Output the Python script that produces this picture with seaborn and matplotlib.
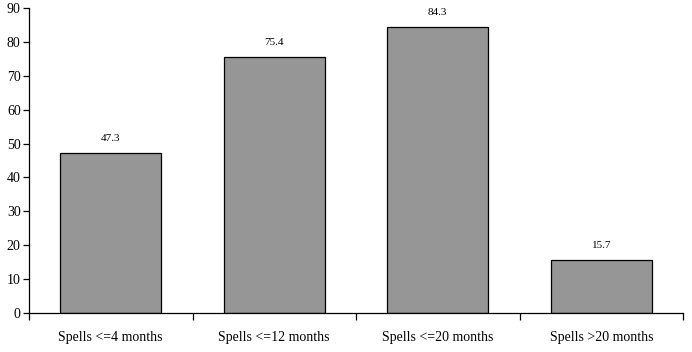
import matplotlib.pyplot as plt
import seaborn as sns
import pandas as pd

categories = ["Spells <=4 months", "Spells <=12 months", "Spells <=20 months", "Spells >20 months"]
values = [47.3, 75.4, 84.3, 15.7]
labels = ["47.3", "75.4", "84.3", "15.7"]

df = pd.DataFrame({"cat": categories, "val": values})

sns.set_style("ticks")
plt.rcParams['font.family'] = ['Liberation Serif', 'DejaVu Serif']
plt.rcParams['text.color'] = 'black'
plt.rcParams['xtick.color'] = 'black'
plt.rcParams['ytick.color'] = 'black'
plt.rcParams['axes.edgecolor'] = 'black'

fig = plt.figure(figsize=(6.92, 3.52), dpi=100)
ax = fig.add_axes([29/692, 39/352, (683-29)/692, (313-8)/352])

sns.barplot(data=df, x="cat", y="val", color="#969696", saturation=1,
            edgecolor="black", linewidth=0.9, width=0.62, ax=ax)

for i, v in enumerate(values):
    ax.text(i, v + 3, labels[i], ha="center", va="bottom", fontsize=8, color="black")

ax.set_ylim(0, 90)
ax.set_yticks(range(0, 91, 10))
ax.set_xlim(-0.5, 3.5)
ax.set_xticks([-0.5, 0.5, 1.5, 2.5, 3.5], minor=True)
ax.tick_params(axis="x", which="major", length=0, pad=13, labelsize=10)
ax.tick_params(axis="x", which="minor", length=5, width=0.9, direction="out")
ax.tick_params(axis="y", length=4, width=0.9, labelsize=10, pad=2)
ax.set_xlabel("")
ax.set_ylabel("")
for s in ["top", "right"]:
    ax.spines[s].set_visible(False)
for s in ["left", "bottom"]:
    ax.spines[s].set_linewidth(0.9)

fig.savefig("out.png", dpi=100)
